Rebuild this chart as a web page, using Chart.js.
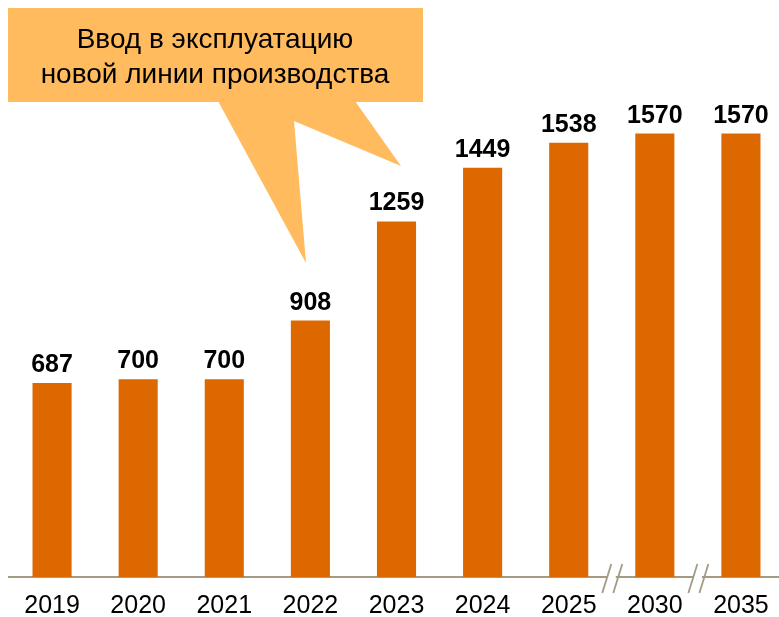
<!DOCTYPE html>
<html>
<head>
<meta charset="utf-8">
<script src="https://cdn.jsdelivr.net/npm/chart.js@4"></script>
<style>
  html, body { margin: 0; padding: 0; background: #fff; overflow: hidden; }
  #wrap { width: 790px; height: 635px; }
</style>
</head>
<body>
<div id="wrap"><canvas id="prodChart"></canvas></div>
<script>
const years = ['2019', '2020', '2021', '2022', '2023', '2024', '2025', '2030', '2035'];
const output = [687, 700, 700, 908, 1259, 1449, 1538, 1570, 1570];
const breakAfter = ['2025', '2030']; // axis break after these categories
const calloutLines = ['Ввод в эксплуатацию', 'новой линии производства'];

const barColor = '#DD6800';
const axisColor = '#A39B84';
const calloutColor = '#FFBB5E';
const fontFamily = '"Liberation Sans", Arial, sans-serif';

const ctx = document.getElementById('prodChart').getContext('2d');

// value labels above bars
const valueLabels = {
    id: 'valueLabels',
    afterDatasetsDraw(chart) {
        const c = chart.ctx;
        const meta = chart.getDatasetMeta(0);
        c.save();
        c.font = 'bold 25px ' + fontFamily;
        c.fillStyle = '#000';
        c.textAlign = 'center';
        c.textBaseline = 'alphabetic';
        meta.data.forEach((bar, i) => {
            c.fillText(String(output[i]), bar.x, bar.y - 11);
        });
        c.restore();
    }
};

// break marks on the x axis
const axisBreaks = {
    id: 'axisBreaks',
    afterDraw(chart) {
        const c = chart.ctx;
        const xs = chart.scales.x;
        const yAxis = chart.chartArea.bottom + 1;
        c.save();
        breakAfter.forEach(label => {
            const i = years.indexOf(label);
            const mid = (xs.getPixelForValue(i) + xs.getPixelForValue(i + 1)) / 2;
            c.fillStyle = '#fff';
            c.fillRect(mid - 4, yAxis - 3, 8, 6);
            c.strokeStyle = axisColor;
            c.lineWidth = 1.8;
            [-5, 6].forEach(off => {
                c.beginPath();
                c.moveTo(mid + off + 4.5, yAxis - 14);
                c.lineTo(mid + off - 4.5, yAxis + 15);
                c.stroke();
            });
        });
        c.restore();
    }
};

// speech-bubble callout
const callout = {
    id: 'callout',
    afterDraw(chart) {
        const c = chart.ctx;
        c.save();
        c.fillStyle = calloutColor;
        c.fillRect(8, 8, 415, 94);
        c.beginPath();
        c.moveTo(218, 101);
        c.lineTo(306, 263);
        c.lineTo(294, 121);
        c.lineTo(401, 166);
        c.lineTo(355, 101);
        c.closePath();
        c.fill();
        c.fillStyle = '#000';
        c.font = '28px ' + fontFamily;
        c.textAlign = 'center';
        c.textBaseline = 'alphabetic';
        c.fillText(calloutLines[0], 215, 48);
        c.fillText(calloutLines[1], 215, 83);
        c.restore();
    }
};

const chart = new Chart(ctx, {
    type: 'bar',
    data: {
        labels: years,
        datasets: [{
            data: output,
            backgroundColor: barColor,
            borderWidth: 0,
            barPercentage: 0.454,
            categoryPercentage: 1.0
        }]
    },
    options: {
        responsive: true,
        maintainAspectRatio: false,
        animation: false,
        layout: { padding: { left: 9, right: 6, top: 0, bottom: 0 } },
        plugins: {
            legend: { display: false },
            tooltip: { enabled: false }
        },
        scales: {
            x: {
                grid: { display: false, drawTicks: false },
                border: { display: true, color: axisColor, width: 2 },
                ticks: {
                    color: '#000',
                    padding: 14,
                    font: { family: fontFamily, size: 25 }
                }
            },
            y: {
                display: false,
                min: 0,
                max: 2043
            }
        }
    },
    plugins: [valueLabels, axisBreaks, callout]
});
</script>
</body>
</html>
